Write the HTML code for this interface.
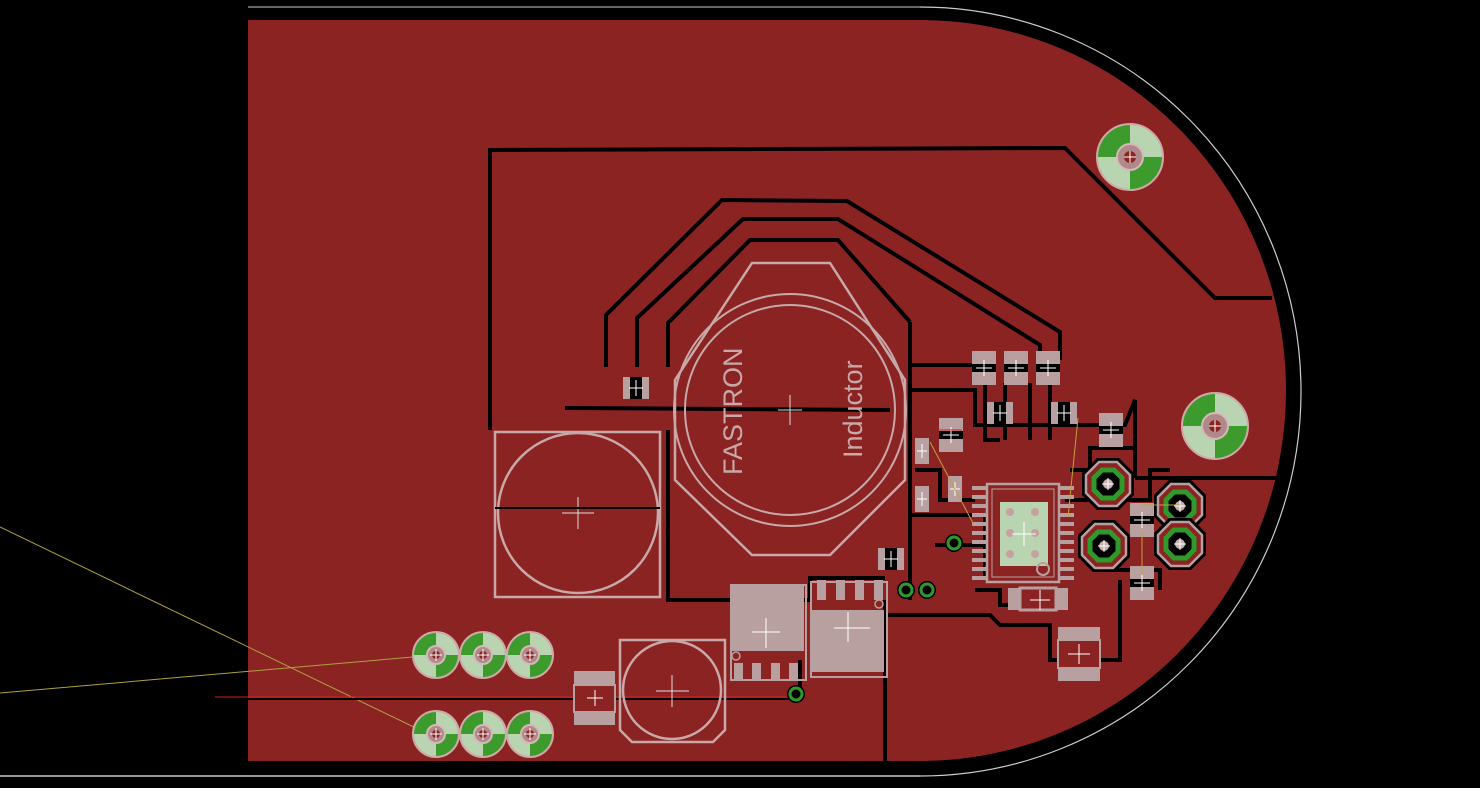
<!DOCTYPE html>
<html><head><meta charset="utf-8"><style>
html,body{margin:0;padding:0;background:#000;}
svg{display:block}
</style></head><body>
<svg width="1480" height="788" viewBox="0 0 1480 788" xmlns="http://www.w3.org/2000/svg">
<defs>
<clipPath id="rh"><rect x="920" y="0" width="560" height="788"/></clipPath>
<g id="hole">
 <circle r="23" fill="#b8d4b0" stroke="#d0a8a8" stroke-width="2"/>
 <path d="M0,0 L0,-22 A22,22 0 0 0 -22,0 Z" fill="#3c9b2c"/>
 <path d="M0,0 L0,22 A22,22 0 0 0 22,0 Z" fill="#3c9b2c"/>
 <circle r="9" fill="#b08a8a" stroke="#d8b8b8" stroke-width="2"/>
 <circle r="4" fill="#8b2323"/>
 <path d="M-6,0H6M0,-6V6" stroke="#fff" stroke-width="1"/>
</g>
<g id="bighole">
 <circle r="33" fill="#b8d4b0" stroke="#d0a8a8" stroke-width="2"/>
 <path d="M0,0 L0,-32 A32,32 0 0 0 -32,0 Z" fill="#3c9b2c"/>
 <path d="M0,0 L0,32 A32,32 0 0 0 32,0 Z" fill="#3c9b2c"/>
 <circle r="13" fill="#b08a8a" stroke="#d8b8b8" stroke-width="2"/>
 <circle r="6" fill="#8b2323"/>
 <path d="M-6,0H6M0,-6V6" stroke="#fff" stroke-width="1"/>
</g>
<g id="via">
 <circle r="9" fill="#000"/>
 <circle r="6" fill="none" stroke="#2f9a2a" stroke-width="3"/>
</g>
<g id="oct">
 <polygon points="-11,-26 11,-26 26,-11 26,11 11,26 -11,26 -26,11 -26,-11" fill="#000"/>
 <polygon points="-9,-22 9,-22 22,-9 22,9 9,22 -9,22 -22,9 -22,-9" fill="#8b2323" stroke="#b8a0a0" stroke-width="2.5"/>
 <polygon points="-6,-14 6,-14 14,-6 14,6 6,14 -6,14 -14,6 -14,-6" fill="#000" stroke="#2f9a2a" stroke-width="5"/>
 <circle r="5" fill="#c8b0b0"/>
 <path d="M-6,0H6M0,-6V6" stroke="#fff" stroke-width="1"/>
</g>
<g id="smd">
 <rect x="-13" y="-11" width="26" height="22" fill="#b8a0a0"/>
 <rect x="-6" y="-11" width="12" height="22" fill="#000"/>
 <path d="M-7,0H7M0,-8V8" stroke="#fff" stroke-width="1"/>
</g>
<g id="smdv">
 <rect x="-12" y="-17" width="24" height="34" fill="#b8a0a0"/>
 <rect x="-12" y="-4" width="24" height="8" fill="#000"/>
 <path d="M-8,0H8M0,-8V8" stroke="#fff" stroke-width="1"/>
</g>
</defs>
<rect width="1480" height="788" fill="#000"/>
<!-- outline -->
<ellipse cx="920" cy="391.5" rx="381" ry="384.5" fill="none" stroke="#ccc" stroke-width="1.2" clip-path="url(#rh)"/>
<line x1="0" y1="776" x2="920" y2="776" stroke="#ccc" stroke-width="1.5"/>
<line x1="248" y1="7" x2="920" y2="7" stroke="#ccc" stroke-width="1"/>
<!-- board copper -->
<rect x="248" y="20" width="680" height="741" fill="#8b2323"/>
<ellipse cx="920" cy="390.5" rx="366" ry="370.5" fill="#8b2323"/>
<line x1="0" y1="527" x2="420" y2="730" stroke="#b0a040" stroke-width="1"/>
<line x1="0" y1="693" x2="436" y2="655" stroke="#b0a040" stroke-width="1"/>
<line x1="215" y1="697" x2="795" y2="697" stroke="#d02020" stroke-width="1"/>
<line x1="248" y1="699" x2="800" y2="699" stroke="#000" stroke-width="2"/>
<!-- black clearance lines -->
<g fill="none" stroke="#000" stroke-width="4">
 <polyline points="490,430 490,150 1065,148 1215,298 1272,298"/>
 <polyline points="1135,478 1276,478"/>
 <polyline points="606,367 606,315 722,200 847,201 1060,332 1060,360"/>
 <polyline points="637,367 637,318 743,219 838,219 1040,345 1040,360"/>
 <polyline points="668,367 668,323 750,240 838,240 910,322"/>
 <polyline points="668,430 668,600 810,600 810,578 885,578"/>
 <polyline points="910,322 910,600"/>
 <polyline points="910,365 975,365"/>
 <polyline points="910,390 975,390 975,425 1125,425 1135,400 1135,478"/>
 <polyline points="885,600 885,772"/>
 <polyline points="885,600 885,615 990,615 1000,625 1050,625 1050,660 1120,660 1120,580"/>
 <polyline points="975,590 1000,590 1000,605 1060,605"/>
 <polyline points="910,515 985,515 985,580"/>
 <polyline points="935,545 985,545"/>
 <polyline points="915,470 940,470 940,500 975,500"/>
 <polyline points="1070,470 1090,470 1090,448 1135,448"/>
 <polyline points="1065,500 1150,500 1150,470 1170,470"/>
 <polyline points="1100,570 1160,570 1160,590"/>
 <polyline points="985,383 985,440 1000,440"/>
 <polyline points="1005,383 1005,440"/>
 <polyline points="1030,383 1030,440"/>
 <polyline points="1050,383 1050,440"/>
 <polyline points="800,660 800,695"/>
 <polyline points="565,408 890,410"/>
</g>
<!-- octagon inductor -->
<polygon points="752,263 830,263 905,380 905,480 830,555 752,555 675,480 675,380" fill="none" stroke="#c8a8a8" stroke-width="2.5"/>
<circle cx="790" cy="410" r="105" fill="none" stroke="#c8a8a8" stroke-width="2"/>
<circle cx="790" cy="410" r="116" fill="none" stroke="#c8a8a8" stroke-width="2"/>
<path d="M778,410H802M790,395V425" stroke="#ddd" stroke-width="1"/>
<text transform="translate(742,475) rotate(-90)" font-family="Liberation Sans,sans-serif" font-size="27" fill="#c8a8a8">FASTRON</text>
<text transform="translate(862,458) rotate(-90)" font-family="Liberation Sans,sans-serif" font-size="27" fill="#c8a8a8">Inductor</text>
<!-- square inductor -->
<rect x="495" y="432" width="165" height="165" fill="none" stroke="#c8a8a8" stroke-width="2.5"/>
<circle cx="578" cy="513" r="80" fill="none" stroke="#c8a8a8" stroke-width="2.5"/>
<path d="M562,513H594M578,497V529" stroke="#ddd" stroke-width="1"/>
<line x1="495" y1="508" x2="660" y2="508" stroke="#000" stroke-width="2"/>
<!-- small round inductor -->
<polygon points="620,640 725,640 725,730 713,742 632,742 620,730" fill="none" stroke="#c8a8a8" stroke-width="2.5"/>
<circle cx="672" cy="690" r="49" fill="none" stroke="#c8a8a8" stroke-width="2.5"/>
<path d="M656,691H689M672,675V707" stroke="#ddd" stroke-width="1"/>
<!-- SMD on left bottom -->
<rect x="574" y="671" width="41" height="54" fill="#b8a0a0"/>
<rect x="574" y="685" width="41" height="27" fill="#8b2323" stroke="#b8a0a0" stroke-width="2"/>
<path d="M587,698H603M595,690V706" stroke="#fff"/>
<use href="#smd" x="636" y="388"/>
<!-- power packages -->
<g fill="#b8a0a0">
 <rect x="731" y="585" width="75" height="95" fill="none" stroke="#b8a0a0" stroke-width="2"/>
 <rect x="732" y="586" width="72" height="65"/>
 <rect x="734" y="663" width="9" height="17"/><rect x="752" y="663" width="9" height="17"/><rect x="771" y="663" width="9" height="17"/><rect x="789" y="663" width="9" height="17"/>
 <rect x="811" y="582" width="76" height="95" fill="none" stroke="#b8a0a0" stroke-width="2"/>
 <rect x="812" y="610" width="72" height="62"/>
 <rect x="817" y="580" width="9" height="20"/><rect x="836" y="580" width="9" height="20"/><rect x="855" y="580" width="9" height="20"/><rect x="874" y="580" width="9" height="20"/>
</g>
<path d="M752,632H780M766,618V648M834,628H870M848,612V642" stroke="#fff" stroke-width="1"/>
<circle cx="736" cy="656" r="4" fill="none" stroke="#b8a0a0" stroke-width="1.5"/>
<circle cx="879" cy="604" r="4" fill="none" stroke="#b8a0a0" stroke-width="1.5"/>
<use href="#via" x="796" y="694"/>
<use href="#via" x="906" y="590"/>
<use href="#via" x="927" y="590"/>
<use href="#via" x="954" y="543"/>
<!-- holes -->
<use href="#hole" x="436" y="655"/><use href="#hole" x="483" y="655"/><use href="#hole" x="530" y="655"/>
<use href="#hole" x="436" y="734"/><use href="#hole" x="483" y="734"/><use href="#hole" x="530" y="734"/>
<use href="#bighole" x="1130" y="157"/>
<use href="#bighole" x="1215" y="426"/>
<!-- IC -->
<rect x="987" y="484" width="72" height="98" fill="none" stroke="#b8a0a0" stroke-width="2.5"/>
<rect x="992" y="489" width="62" height="88" fill="none" stroke="#b8a0a0" stroke-width="1"/>
<rect x="1000" y="502" width="48" height="64" fill="#b8d4b0"/>
<g fill="#c8a0a0"><circle cx="1010" cy="512" r="4"/><circle cx="1035" cy="512" r="4"/><circle cx="1010" cy="533" r="4"/><circle cx="1035" cy="533" r="4"/><circle cx="1010" cy="554" r="4"/><circle cx="1035" cy="554" r="4"/></g>
<path d="M1012,534H1036M1024,522V546" stroke="#fff"/>
<circle cx="1043" cy="569" r="6" fill="none" stroke="#b8a0a0" stroke-width="2"/>
<g fill="#b8a0a0">
 <rect x="972" y="486" width="14" height="4"/><rect x="972" y="495" width="14" height="4"/><rect x="972" y="504" width="14" height="4"/><rect x="972" y="513" width="14" height="4"/><rect x="972" y="522" width="14" height="4"/><rect x="972" y="531" width="14" height="4"/><rect x="972" y="540" width="14" height="4"/><rect x="972" y="549" width="14" height="4"/><rect x="972" y="558" width="14" height="4"/><rect x="972" y="567" width="14" height="4"/><rect x="972" y="576" width="14" height="4"/>
 <rect x="1060" y="486" width="14" height="4"/><rect x="1060" y="495" width="14" height="4"/><rect x="1060" y="504" width="14" height="4"/><rect x="1060" y="513" width="14" height="4"/><rect x="1060" y="522" width="14" height="4"/><rect x="1060" y="531" width="14" height="4"/><rect x="1060" y="540" width="14" height="4"/><rect x="1060" y="549" width="14" height="4"/><rect x="1060" y="558" width="14" height="4"/><rect x="1060" y="567" width="14" height="4"/><rect x="1060" y="576" width="14" height="4"/>
</g>
<!-- small parts -->
<use href="#smdv" x="984" y="368"/><use href="#smdv" x="1016" y="368"/><use href="#smdv" x="1048" y="368"/>
<use href="#smd" x="1000" y="413"/><use href="#smd" x="1064" y="413"/>
<use href="#smdv" x="951" y="435"/>
<use href="#smdv" x="1111" y="430"/>
<rect x="915" y="438" width="14" height="26" fill="#b8a0a0"/><path d="M917,451H927M922,444V458" stroke="#fff"/>
<rect x="915" y="486" width="14" height="26" fill="#b8a0a0"/><path d="M917,499H927M922,492V506" stroke="#fff"/>
<rect x="948" y="476" width="14" height="26" fill="#b8a0a0"/><path d="M950,489H960M955,482V496" stroke="#fff"/>
<use href="#smd" x="891" y="559"/>
<use href="#smdv" x="1142" y="520"/><use href="#smdv" x="1142" y="583"/>
<rect x="1008" y="588" width="60" height="22" fill="#b8a0a0"/><rect x="1020" y="588" width="36" height="22" fill="#8b2323" stroke="#b8a0a0" stroke-width="3"/><path d="M1030,600H1050M1040,590V610" stroke="#fff"/>
<rect x="1058" y="627" width="42" height="54" fill="#b8a0a0"/><rect x="1058" y="640" width="42" height="28" fill="#8b2323" stroke="#b8a0a0" stroke-width="2"/><path d="M1068,654H1090M1079,644V664" stroke="#fff"/>
<use href="#oct" x="1108" y="484"/>
<use href="#oct" x="1104" y="546"/>
<use href="#oct" x="1180" y="506"/>
<use href="#oct" x="1180" y="544"/>
<g stroke="#c0a040" stroke-width="1" fill="none">
 <line x1="930" y1="442" x2="974" y2="525"/>
 <line x1="1078" y1="418" x2="1068" y2="517"/>
 <line x1="1142" y1="505" x2="1180" y2="505"/>
 <line x1="1142" y1="532" x2="1142" y2="573"/>
</g>
<line x1="938" y1="430" x2="962" y2="430" stroke="#d02020" stroke-width="1"/>
</svg>
</body></html>
